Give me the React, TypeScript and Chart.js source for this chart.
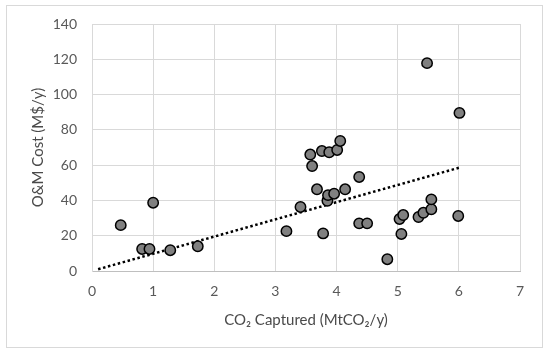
import React, { useEffect, useRef } from "react";
import { Chart, registerables } from "chart.js";

Chart.register(...registerables);

const capturedX = [0.47, 0.82, 0.94, 1.0, 1.28, 1.73, 3.18, 3.41, 3.57, 3.6, 3.68, 3.76, 3.78, 3.85, 3.86, 3.88, 3.96, 4.01, 4.06, 4.14, 4.37, 4.37, 4.5, 4.83, 5.03, 5.06, 5.09, 5.34, 5.42, 5.48, 5.55, 5.55, 5.99, 6.01];
const costY = [26, 12.5, 12.5, 38.7, 11.8, 14, 22.6, 36.3, 66, 59.5, 46.3, 68, 21.3, 39.8, 43, 67.3, 43.8, 68.6, 73.7, 46.3, 53.3, 27, 27, 6.7, 29.5, 21, 31.7, 30.6, 33, 117.8, 35, 40.6, 31.2, 89.6];
const trendX = [0.1, 6.0];
const trendY = [1.0, 58.5];
const xTicks = [0, 1, 2, 3, 4, 5, 6, 7];
const yTicks = [0, 20, 40, 60, 80, 100, 120, 140];

const FONT = "Lato, 'Open Sans', sans-serif";

const borderPlugin = {
  id: "outerBorder",
  beforeDraw(chart: any) {
    const ctx = chart.ctx;
    ctx.save();
    ctx.fillStyle = "#ffffff";
    ctx.fillRect(0, 0, chart.width, chart.height);
    ctx.strokeStyle = "#d9d9d9";
    ctx.lineWidth = 1;
    ctx.strokeRect(6.5, 5.5, 536, 342);
    ctx.restore();
  },
};

export default function App() {
  const ref = useRef<HTMLCanvasElement | null>(null);
  useEffect(() => {
    if (!ref.current) return;
    const chart = new Chart(ref.current, {
      type: "scatter",
      data: {
        datasets: [
          {
            label: "Data",
            data: capturedX.map((x, i) => ({ x, y: costY[i] })),
            pointRadius: 5.2,
            pointHoverRadius: 5.2,
            pointBackgroundColor: "#808080",
            pointBorderColor: "#000000",
            pointBorderWidth: 1.5,
            showLine: false,
            order: 1,
          },
          {
            label: "Trend",
            data: trendX.map((x, i) => ({ x, y: trendY[i] })),
            showLine: true,
            borderColor: "#000000",
            borderWidth: 2.5,
            borderDash: [2.5, 2.6],
            pointRadius: 0,
            order: 2,
          },
        ],
      },
      options: {
        animation: false,
        responsive: false,
        maintainAspectRatio: false,
        layout: { padding: { left: 0, right: 30, top: 24, bottom: 0 } },
        plugins: { legend: { display: false }, tooltip: { enabled: false } },
        scales: {
          x: {
            type: "linear",
            min: 0,
            max: 7,
            afterBuildTicks: (s: any) => {
              s.ticks = xTicks.map((v) => ({ value: v }));
            },
            afterFit: (s: any) => {
              s.height = 83;
            },
            grid: { color: "#d9d9d9", lineWidth: 1, drawTicks: false },
            border: { color: "#bfbfbf", width: 1 },
            ticks: { color: "#595959", font: { family: FONT, size: 14 }, padding: 12 },
            title: {
              display: true,
              text: "CO₂ Captured (MtCO₂/y)",
              color: "#4a4a4a",
              font: { family: FONT, size: 15 },
              padding: { top: 0, bottom: 25 },
            },
          },
          y: {
            type: "linear",
            min: 0,
            max: 140,
            afterBuildTicks: (s: any) => {
              s.ticks = yTicks.map((v) => ({ value: v }));
            },
            afterFit: (s: any) => {
              s.width = 92;
            },
            grid: { color: "#d9d9d9", lineWidth: 1, drawTicks: false },
            border: { color: "#d9d9d9", width: 1 },
            ticks: { color: "#595959", font: { family: FONT, size: 14 }, padding: 15 },
            title: {
              display: true,
              text: "O&M Cost (M$/y)",
              color: "#4a4a4a",
              font: { family: FONT, size: 15 },
              padding: { top: 29, bottom: 0 },
            },
          },
        },
      },
      plugins: [borderPlugin],
    });
    return () => chart.destroy();
  }, []);
  return (
    <div style={{ position: "absolute", left: 0, top: 0, width: 550, height: 354 }}>
      <canvas ref={ref} width={550} height={354} style={{ width: 550, height: 354 }} />
    </div>
  );
}
